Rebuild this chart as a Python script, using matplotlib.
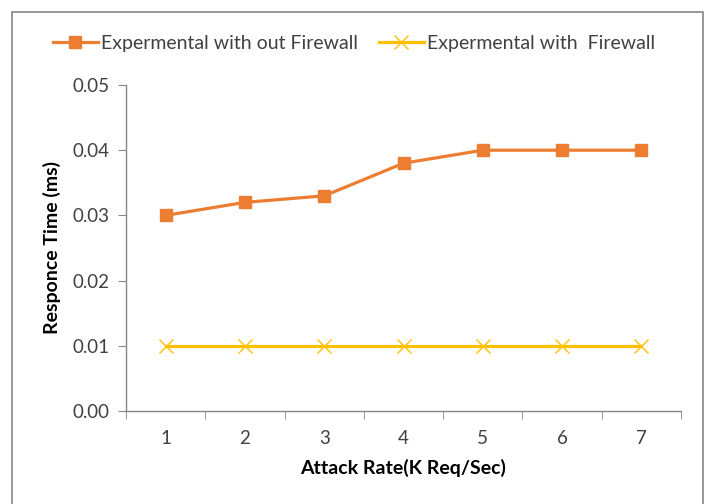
import matplotlib.pyplot as plt
from matplotlib.patches import Rectangle

plt.rcParams['font.family'] = ['Lato', 'DejaVu Sans']

attack_rate = [1, 2, 3, 4, 5, 6, 7]
no_firewall = [0.030, 0.032, 0.033, 0.038, 0.040, 0.040, 0.040]
with_firewall = [0.010, 0.010, 0.010, 0.010, 0.010, 0.010, 0.010]

W, H = 708, 504
fig = plt.figure(figsize=(W / 100, H / 100), dpi=100)

# plot area in pixel coordinates
left, right, top, bottom = 126, 681, 85, 411
ax = fig.add_axes([left / W, 1 - bottom / H, (right - left) / W, (bottom - top) / H])

ax.plot(attack_rate, no_firewall, color='#ED7D31', lw=2.3, marker='s', ms=9,
        label='Expermental with out Firewall')
ax.plot(attack_rate, with_firewall, color='#FFC000', lw=2.3, marker='x', ms=10,
        mew=1.0, label='Expermental with  Firewall')

ax.set_xlim(0.5, 7.5)
ax.set_ylim(0, 0.05)
ax.set_yticks([0, 0.01, 0.02, 0.03, 0.04, 0.05])
ax.set_yticklabels([f'{v:.2f}' for v in [0, 0.01, 0.02, 0.03, 0.04, 0.05]])
ax.set_xticks(attack_rate)
ax.set_xticks([x + 0.5 for x in range(0, 8)], minor=True)

for s in ['top', 'right']:
    ax.spines[s].set_visible(False)
for s in ['left', 'bottom']:
    ax.spines[s].set_color('#868686')
    ax.spines[s].set_linewidth(1.0)

ax.tick_params(axis='y', length=6, color='#868686', labelsize=13.5, labelcolor='#404040', pad=6)
ax.tick_params(axis='x', which='major', length=0, labelsize=13.5, labelcolor='#404040', pad=14)
ax.tick_params(axis='x', which='minor', length=6, color='#868686')

ax.set_xlabel('Attack Rate(K Req/Sec)', fontsize=14, fontweight='bold', labelpad=8)
ax.set_ylabel('Responce Time (ms)', fontsize=14, fontweight='bold', labelpad=8)

leg = fig.legend(loc='center', bbox_to_anchor=(0.5, 1 - 43 / H), ncol=2, frameon=False,
                 fontsize=14, handlelength=2.3, columnspacing=1.1, handletextpad=0.15,
                 labelcolor='#404040')

# outer chart frame
fig.patches.append(Rectangle((11.5 / W, -0.1), (703 - 11.5) / W, 1.1 - 12 / H,
                             transform=fig.transFigure, fill=False,
                             edgecolor='#868686', lw=1.2))

fig.savefig('out.png', dpi=100)
